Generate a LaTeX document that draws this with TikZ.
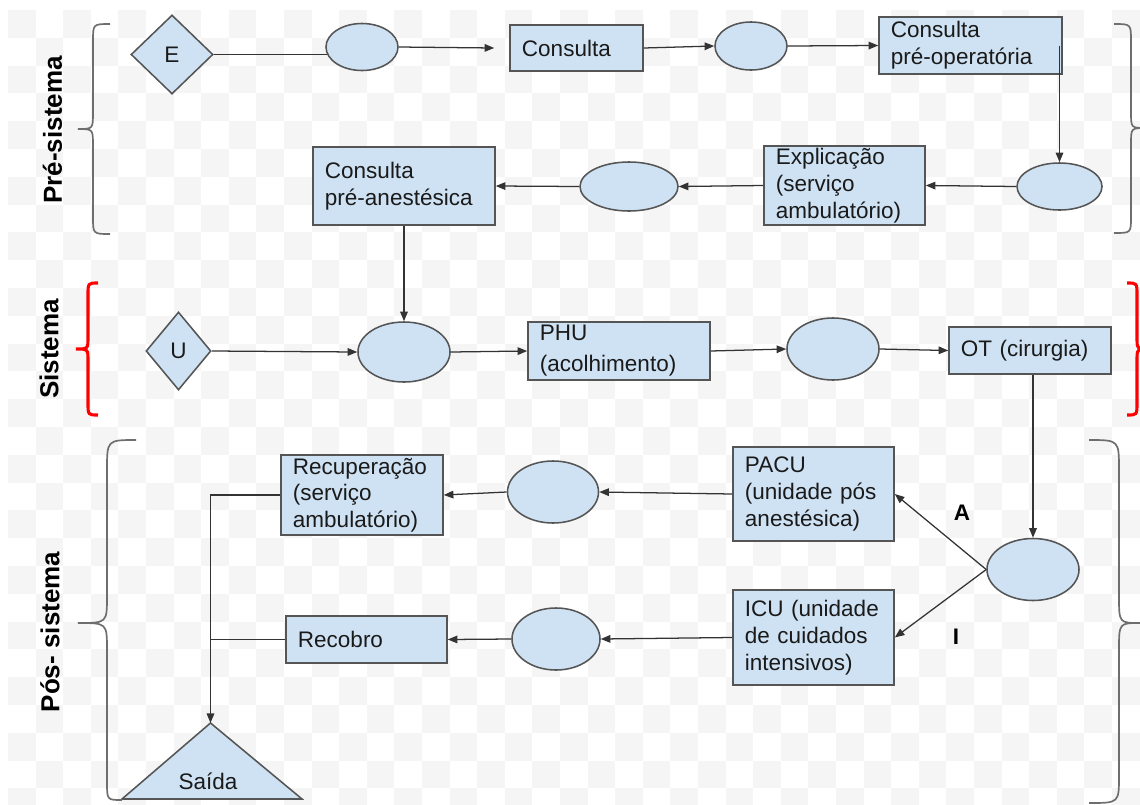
\documentclass[tikz,border=0pt]{standalone}
\usepackage{fontspec}
\setmainfont{Liberation Sans}
\usetikzlibrary{arrows.meta,shapes.geometric,calc}

\definecolor{boxfill}{HTML}{CFE2F3}
\definecolor{boxline}{HTML}{555555}
\definecolor{linegray}{HTML}{333333}
\definecolor{bracegray}{HTML}{6E6E6E}
\definecolor{tile}{HTML}{F5F5F5}
\definecolor{inkcol}{HTML}{1A1A1A}

\pgfdeclarelayer{grid}
\pgfdeclarelayer{behind}
\pgfsetlayers{grid,behind,main}

\tikzset{
  txt/.style={font=\fontsize{16}{19}\selectfont, text=inkcol},
  shapebase/.style={txt, draw=boxline, fill=boxfill, line width=1.1pt},
  box/.style={shapebase, rectangle, align=left, inner xsep=0.3cm, inner ysep=0pt},
  oval/.style={shapebase, ellipse, inner sep=0pt},
  gate/.style={shapebase, diamond, inner sep=0pt},
  conn/.style={draw=linegray, line width=0.9pt},
  flow/.style={conn, -{Triangle[length=0.24cm,width=0.19cm]}},
  sidebrace/.style={draw=bracegray, line width=1.2pt},
  redbrace/.style={draw=red, line width=2.2pt},
  phase/.style={font=\fontsize{18.5}{22}\selectfont\bfseries, text=black, rotate=90},
  branch/.style={font=\fontsize{16}{19}\selectfont\bfseries, text=black},
}

\begin{document}
\begin{tikzpicture}[x=0.025cm,y=-0.025cm]
\useasboundingbox (0,0) rectangle (1140,804);
\clip (0,0) rectangle (1140,804);

% faint checkered backdrop
\begin{pgfonlayer}{grid}
  \fill[white] (0,0) rectangle (1140,804);
  \foreach \i in {0,...,41}{
    \foreach \j in {0,...,28}{
      \pgfmathtruncatemacro\odd{mod(\i+\j,2)}
      \ifnum\odd=0
        \fill[tile] (8+27.6*\i,10+27.8*\j) rectangle ++(27.6,27.8);
      \fi
    }
  }
\end{pgfonlayer}

% ---- Pré-sistema ----
\node[gate, minimum width=2.05cm, minimum height=1.975cm] (E) at (172,54.5) {E};
\node[oval, minimum width=1.8cm, minimum height=1.175cm] (e1) at (362,47) {};
\node[box, text width=2.725cm, minimum height=1.15cm] (co) at (576.5,48) {Consulta};
\node[oval, minimum width=1.8cm, minimum height=1.2cm] (e2) at (751,46) {};
\node[box, text width=3.975cm, minimum height=1.425cm] (po) at (970.5,45.5) {Consulta\\pré-operatória};
\node[oval, minimum width=2.125cm, minimum height=1.175cm] (e3) at (1059.5,186.5) {};
\node[box, text width=3.425cm, minimum height=1.975cm] (ex) at (844.5,185.5) {Explicação\\(serviço\\ambulatório)};
\node[oval, minimum width=2.45cm, minimum height=1.225cm] (e4) at (629,186.5) {};
\node[box, text width=3.95cm, minimum height=1.95cm] (pa) at (404,186) {Consulta\\pré-anestésica};

% ---- Sistema ----
\node[gate, minimum width=1.625cm, minimum height=1.95cm] (U) at (178.5,351) {U};
\node[oval, minimum width=2.3cm, minimum height=1.5cm] (s1) at (404,352) {};
\node[box, text width=3.95cm, minimum height=1.45cm] (phu) at (619,351) {PHU\\[3pt](acolhimento)};
\node[oval, minimum width=2.3cm, minimum height=1.55cm] (s2) at (833,349) {};
\node[box, text width=3.45cm, minimum height=1.175cm] (ot) at (1030,350.5) {OT (cirurgia)};

% ---- Pós-sistema ----
\node[oval, minimum width=2.3cm, minimum height=1.55cm] (pe) at (1033,569.5) {};
\node[box, text width=3.425cm, minimum height=2.35cm] (pacu) at (813.5,494) {PACU\\(unidade pós\\anestésica)};
\node[box, text width=3.425cm, minimum height=2.375cm] (icu) at (813.5,637.5) {ICU (unidade\\de cuidados\\intensivos)};
\node[oval, minimum width=2.275cm, minimum height=1.55cm] (eA) at (553,492) {};
\node[oval, minimum width=2.2cm, minimum height=1.55cm] (eI) at (556,639) {};
\node[box, text width=3.45cm, minimum height=2.0cm] (rec) at (362,495) {Recuperação\\(serviço\\ambulatório)};
\node[box, text width=3.425cm, minimum height=1.175cm] (rcb) at (366.5,639.5) {Recobro};

% exit triangle
\coordinate (sai) at (210.5,723);
\coordinate (sbl) at (122,799);
\coordinate (sbr) at (302,799);
\draw[draw=boxline, fill=boxfill, line width=1.1pt] (sbl) -- (sai) -- (sbr) -- cycle;
\node[txt] (saida) at (208,781) {Saída};

% ---- connectors ----
\begin{pgfonlayer}{behind}
  \draw[conn] (E.east) -- (E.east -| e1.center);
\end{pgfonlayer}
\draw[flow] (e1.east) -- ($(co.west)+(-15,0)$);
\draw[flow] (co.east) -- (e2.west);
\draw[flow] (e2.east) -- (po.west);
\draw[flow] (e3.north |- po.east) -- (e3.north);
\draw[flow] (e3.west) -- (ex.east);
\draw[flow] (ex.west) -- (e4.east);
\draw[flow] (e4.west) -- (pa.east);
\draw[flow] (pa.south) -- (s1.north);

\draw[flow] (U.east) -- (s1.west);
\draw[flow] (s1.east) -- (phu.west);
\draw[flow] (phu.east) -- (s2.west);
\draw[flow] (s2.east) -- (ot.west);
\draw[flow] (ot.south -| pe.north) -- (pe.north);

\draw[flow] (pe.west) -- (pacu.east);
\draw[flow] (pe.west) -- (icu.east);
\draw[flow] (pacu.west) -- (eA.east);
\draw[flow] (icu.west) -- (eI.east);
\draw[flow] (eA.west) -- (rec.east);
\draw[flow] (eI.west) -- (rcb.east);
\draw[flow] (rec.west) -| (sai);
\draw[conn] (rcb.west) -- (rcb.west -| sai);

\node[branch] (la) at (962,513) {A};
\node[branch] (li) at (956,637) {I};

% ---- braces ----
\draw[sidebrace] (110,24) .. controls (93,24) .. (93,41) -- (93,112)
  .. controls (93,129) .. (78,129) .. controls (93,129) .. (93,146)
  -- (93,217) .. controls (93,234) .. (110,234);
\draw[sidebrace] (1114,24) .. controls (1131,24) .. (1131,41) -- (1131,112)
  .. controls (1131,128) .. (1146,128) .. controls (1131,128) .. (1131,144)
  -- (1131,217) .. controls (1131,233) .. (1114,233);

\draw[redbrace] (98,283) .. controls (88,283) .. (88,295) -- (88,337)
  .. controls (88,349) .. (76,349) .. controls (88,349) .. (88,361)
  -- (88,403) .. controls (88,415) .. (98,415);
\draw[redbrace] (1127,283) .. controls (1137,283) .. (1137,295) -- (1137,337)
  .. controls (1137,349) .. (1149,349) .. controls (1137,349) .. (1137,361)
  -- (1137,403) .. controls (1137,415) .. (1127,415);

\draw[sidebrace] (136,440) .. controls (107,440) .. (107,470) -- (107,596)
  .. controls (107,623) .. (78,623) .. controls (107,623) .. (107,650)
  -- (107,782) .. controls (107,800) .. (122,800);
\draw[sidebrace] (1089,440) .. controls (1119,440) .. (1119,470) -- (1119,596)
  .. controls (1119,623) .. (1140,623) .. controls (1119,623) .. (1119,650)
  -- (1119,776) .. controls (1119,803) .. (1089,803);

% ---- phase labels ----
\node[phase] (lpre) at (52.5,130) {Pré-sistema};
\node[phase] (lsis) at (49,349) {Sistema};
\node[phase] (lpos) at (50,632) {Pós- sistema};

\end{tikzpicture}
\end{document}
